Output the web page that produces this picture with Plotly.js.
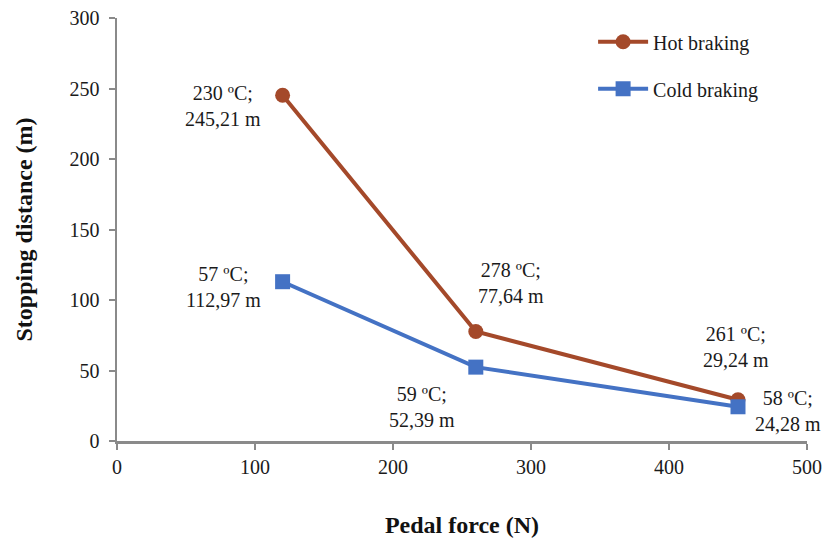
<!DOCTYPE html>
<html>
<head>
<meta charset="utf-8">
<script src="https://cdn.plot.ly/plotly-3.0.1.min.js"></script>
<style>html,body{margin:0;padding:0;background:#fff;}#chart{width:831px;height:548px;}</style>
</head>
<body>
<div id="chart"></div>
<script>
const pedalForce = [120, 260, 450];
const hotDistance = [245.21, 77.64, 29.24];
const coldDistance = [112.97, 52.39, 24.28];
const hotTemps = ["230 ºC;", "278 ºC;", "261 ºC;"];
const coldTemps = ["57 ºC;", "59 ºC;", "58 ºC;"];
const hotDistLabels = ["245,21 m", "77,64 m", "29,24 m"];
const coldDistLabels = ["112,97 m", "52,39 m", "24,28 m"];

const hotColor = '#A4492A';
const coldColor = '#4472C4';
const serif = 'Liberation Serif, Times New Roman, serif';

const traces = [
  {x: pedalForce, y: hotDistance, name: 'Hot braking', mode: 'lines+markers', legendgroup: 'a',
   line: {color: hotColor, width: 4}, marker: {symbol: 'circle', size: 15, color: hotColor}, cliponaxis: false},
  {x: pedalForce, y: coldDistance, name: 'Cold braking', mode: 'lines+markers', legendgroup: 'b',
   line: {color: coldColor, width: 4}, marker: {symbol: 'square', size: 15, color: coldColor}, cliponaxis: false}
];

const hotShifts = [[-20, -11, 'right'], [35, 49, 'center'], [-2, 53, 'center']];
const coldShifts = [[-20, -5, 'right'], [-54, -40, 'center'], [50, -4, 'center']];
const annotations = [];
pedalForce.forEach((x, i) => {
  annotations.push({x: x, y: hotDistance[i], xref: 'x', yref: 'y', showarrow: false,
    text: hotTemps[i] + '<br>' + hotDistLabels[i], xanchor: hotShifts[i][2], yanchor: 'middle',
    xshift: hotShifts[i][0], yshift: hotShifts[i][1], align: 'center',
    font: {family: serif, size: 20, color: '#1a1a1a'}});
  annotations.push({x: x, y: coldDistance[i], xref: 'x', yref: 'y', showarrow: false,
    text: coldTemps[i] + '<br>' + coldDistLabels[i], xanchor: coldShifts[i][2], yanchor: 'middle',
    xshift: coldShifts[i][0], yshift: coldShifts[i][1], align: 'center',
    font: {family: serif, size: 20, color: '#1a1a1a'}});
});

const layout = {
  width: 831, height: 548,
  margin: {l: 117, r: 24, t: 18, b: 107},
  paper_bgcolor: '#fff', plot_bgcolor: '#fff',
  font: {family: serif, size: 20, color: '#1a1a1a'},
  showlegend: true,
  legend: {x: 0.69, y: 0.99, xanchor: 'left', yanchor: 'top', bgcolor: 'rgba(0,0,0,0)',
    font: {family: serif, size: 20, color: '#1a1a1a'}, tracegroupgap: 18, traceorder: 'grouped', itemwidth: 50},
  xaxis: {range: [0, 500], tickvals: [0, 100, 200, 300, 400, 500], showgrid: false, zeroline: false,
    showline: true, linecolor: '#8a8a8a', linewidth: 2.5, ticks: 'outside', ticklen: 6, tickcolor: '#8a8a8a', tickwidth: 2,
    tickfont: {family: serif, size: 20, color: '#1a1a1a'},
    title: {text: '<b>Pedal force (N)</b>', font: {family: serif, size: 24, color: '#111'}, standoff: 40}},
  yaxis: {range: [0, 300], tickvals: [0, 50, 100, 150, 200, 250, 300], showgrid: false, zeroline: false,
    showline: true, linecolor: '#8a8a8a', linewidth: 2.5, ticks: 'outside', ticklen: 6, tickcolor: '#8a8a8a', tickwidth: 2,
    ticklabelstandoff: 5,
    tickfont: {family: serif, size: 20, color: '#1a1a1a'},
    title: {text: '<b>Stopping distance (m)</b>', font: {family: serif, size: 24, color: '#111'}, standoff: 30}},
  annotations: annotations
};

Plotly.newPlot('chart', traces, layout, {displayModeBar: false, staticPlot: true});
</script>
</body>
</html>
